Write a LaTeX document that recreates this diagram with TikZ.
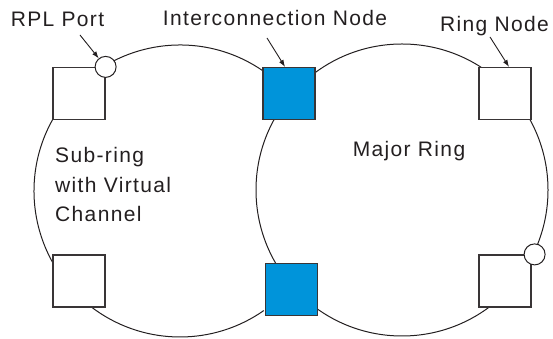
\documentclass[tikz,border=0pt]{standalone}
\usepackage{fontspec}
\newfontfamily\labelfont{Liberation Sans}[LetterSpace=6.5]
\usetikzlibrary{calc,arrows.meta}
\definecolor{icblue}{RGB}{0,148,218}
\definecolor{ink}{RGB}{35,31,32}
\tikzset{x=1pt, y=1pt,
	ring/.style={draw=ink, line width=1pt},
	ringbox/.style={draw=ink!90, line width=1.2pt, fill=white,
		minimum size=52pt, inner sep=0pt},
	icbox/.style={ringbox, fill=icblue},
	port/.style={circle, draw=ink, line width=1pt, fill=white,
		minimum size=21pt, inner sep=0pt},
	note/.style={font=\labelfont\fontsize{21}{29.5}\selectfont, text=ink},
	pointer/.style={draw=ink, line width=0.9pt, -{Latex[length=7pt,width=5pt]}}
}

\begin{document}
\begin{tikzpicture}
\useasboundingbox (0,0) rectangle (553,339);
% rings
\coordinate (sub) at (180,148);
\coordinate (major) at (402,149);
\draw[ring] (sub) ++(55:146) arc[start angle=55, end angle=305, radius=146];
\draw[ring] (major) circle[radius=146];
% nodes on the rings
\foreach \n/\x/\y in {tl/79/245.5, bl/79/58, tr/505/245.5, br/505/58}
	\node[ringbox] (\n) at (\x,\y) {};
\node[icbox] (ictop) at (289,245.5) {};
\node[icbox] (icbot) at (291.5,49.5) {};
\node[port] (rpl) at (tl.north east) {};
\node[port] (brport) at ([xshift=3]br.north east) {};
% labels
\node[note, anchor=base] (rplnote) at (57.5,312) {RPL Port};
\node[note, anchor=base] (icnote) at (275,313) {Interconnection Node};
\node[note, anchor=base] (ringnote) at (494.5,307) {Ring Node};
\node[note, anchor=base] (majornote) at (409,182) {Major Ring};
\node[note, anchor=north west, align=left, inner sep=0pt] (subnote) at (55,191.5)
	{Sub-ring\\with Virtual\\Channel};
\draw[pointer] ([shift={(22.5,-8)}]rplnote.base) -- (rpl);
\draw[pointer] ([shift={(-8,-12)}]icnote.base) -- ([xshift=-4]ictop.north);
\draw[pointer] ([shift={(-4.5,-5)}]ringnote.base) -- ([xshift=4]tr.north);
\end{tikzpicture}
\end{document}
